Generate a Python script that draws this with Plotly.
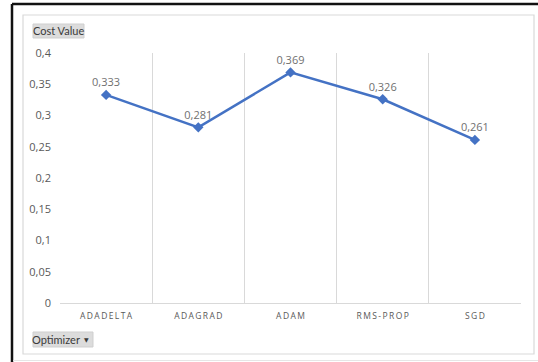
import plotly.graph_objects as go

categories = ["ADADELTA", "ADAGRAD", "ADAM", "RMS-PROP", "SGD"]
cost_values = [0.333, 0.281, 0.369, 0.326, 0.261]
y_axis_title = "Cost Value"
x_axis_title = "Optimizer"

W_PX, H_PX = 538, 362
L, R, T, B = 60, 17, 53, 59
PW, PH = W_PX - L - R, H_PX - T - B

def xp(px):
    return (px - L) / PW

def yp(py):
    return (H_PX - B - py) / PH

GRID = "#d9d9d9"
TXT = "#595959"

spaced = ["\u2009".join(c) for c in categories]

fig = go.Figure()
fig.add_trace(go.Scatter(
    x=categories, y=cost_values,
    mode="lines+markers+text",
    line=dict(color="#4472C4", width=2.5),
    marker=dict(symbol="diamond", size=8, color="#4472C4"),
    texttemplate="%{y:.3f}",
    textposition="top center",
    textfont=dict(family="Open Sans", size=11, color="#707070"),
    cliponaxis=False,
    hoverinfo="skip",
))

shapes = [
    # outer dark frame (top and left edges)
    dict(type="line", xref="paper", yref="paper",
         x0=xp(12), x1=xp(545), y0=yp(4), y1=yp(4),
         line=dict(color="#111111", width=2.5), layer="below"),
    dict(type="line", xref="paper", yref="paper",
         x0=xp(12), x1=xp(12), y0=yp(4), y1=yp(370),
         line=dict(color="#111111", width=2.5), layer="below"),
    # inner light frame
    dict(type="rect", xref="paper", yref="paper",
         x0=xp(23), x1=xp(534), y0=yp(354), y1=yp(15),
         line=dict(color=GRID, width=1.2), layer="below"),
    # bottom faint line
    dict(type="line", xref="paper", yref="paper",
         x0=xp(13), x1=xp(545), y0=yp(360.5), y1=yp(360.5),
         line=dict(color="#e6e6e6", width=1), layer="below"),
    # Cost Value button
    dict(type="rect", xref="paper", yref="paper",
         x0=xp(33), x1=xp(84), y0=yp(38), y1=yp(24),
         fillcolor="#dcdcdc", line=dict(color="#cfcfcf", width=1), layer="below"),
    # Optimizer button
    dict(type="rect", xref="paper", yref="paper",
         x0=xp(33), x1=xp(93), y0=yp(347), y1=yp(332),
         fillcolor="#dcdcdc", line=dict(color="#cfcfcf", width=1), layer="below"),
]

annotations = [
    dict(text=y_axis_title, xref="paper", yref="paper",
         x=xp(58.5), y=yp(31), xanchor="center", yanchor="middle",
         showarrow=False, font=dict(family="Lato", size=11, color="#3a3a3a")),
    dict(text=x_axis_title, xref="paper", yref="paper",
         x=xp(56), y=yp(339.5), xanchor="center", yanchor="middle",
         showarrow=False, font=dict(family="Lato", size=11, color="#3a3a3a")),
    dict(text="\u25BC", xref="paper", yref="paper",
         x=xp(86), y=yp(339), xanchor="center", yanchor="middle",
         showarrow=False, font=dict(family="DejaVu Sans", size=6, color="#3a3a3a")),
]

fig.update_layout(
    width=W_PX, height=H_PX,
    margin=dict(l=L, r=R, t=T, b=B),
    paper_bgcolor="white", plot_bgcolor="white",
    separators=",.",
    showlegend=False,
    shapes=shapes,
    annotations=annotations,
    xaxis=dict(
        type="category",
        tickmode="array", tickvals=categories, ticktext=spaced,
        tickson="boundaries", ticks="", showgrid=True, gridcolor=GRID, gridwidth=1,
        showline=True, linecolor=GRID, linewidth=1,
        range=[-0.5, len(categories) - 0.5],
        tickfont=dict(family="Open Sans", size=8.5, color=TXT),
        ticklabelstandoff=5, zeroline=False, fixedrange=True,
    ),
    yaxis=dict(
        range=[0, 0.4], dtick=0.05, tick0=0,
        showgrid=False, zeroline=False, showline=False, ticks="",
        tickfont=dict(family="Open Sans", size=11, color=TXT),
        ticklabelstandoff=8, fixedrange=True,
    ),
)

fig.write_html("out.html")
